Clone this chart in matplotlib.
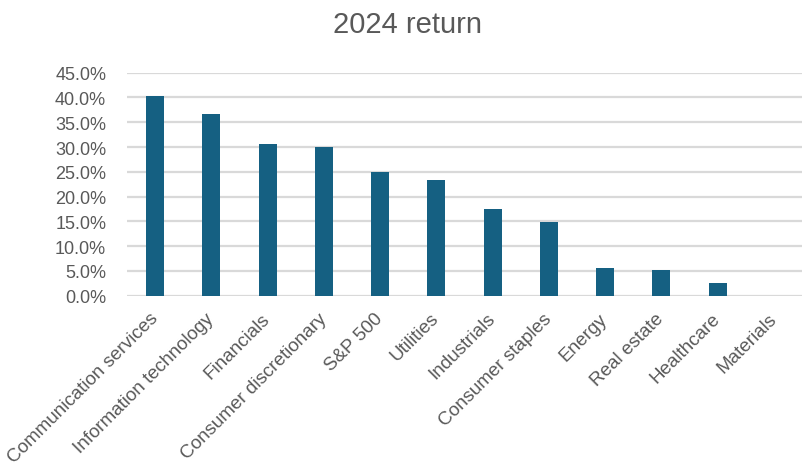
import matplotlib
matplotlib.use("Agg")
import matplotlib.pyplot as plt
import matplotlib.transforms as mtransforms
from matplotlib.ticker import FuncFormatter, MultipleLocator

categories = ["Communication services", "Information technology", "Financials",
              "Consumer discretionary", "S&P 500", "Utilities", "Industrials",
              "Consumer staples", "Energy", "Real estate", "Healthcare", "Materials"]
returns = [40.2, 36.6, 30.6, 30.0, 25.0, 23.4, 17.4, 14.9, 5.6, 5.2, 2.6, 0.0]
title = "2024 return"

plt.rcParams['font.family'] = ['Liberation Sans', 'DejaVu Sans']
text_color = "#595959"
bar_color = "#156082"
grid_color = "#D9D9D9"

fig = plt.figure(figsize=(8.1, 4.77), dpi=100)
ax = fig.add_axes([0.1568, 0.378, 0.990 - 0.1568, 0.8455 - 0.378])

x = list(range(len(categories)))
ax.bar(x, returns, width=0.32, color=bar_color, zorder=3)
ax.set_xlim(-0.5, len(categories) - 0.5)
ax.set_ylim(0, 45)
ax.yaxis.set_major_locator(MultipleLocator(5))
ax.yaxis.set_major_formatter(FuncFormatter(lambda v, p: f"{v:.1f}%"))
ax.grid(axis='y', color=grid_color, linewidth=1.6, zorder=0)
ax.set_axisbelow(True)
for s in ax.spines.values():
    s.set_visible(False)
ax.tick_params(axis='y', length=0, pad=15, labelsize=13, labelcolor=text_color)
ax.tick_params(axis='x', length=0, pad=10)
ax.set_xticks(x)
ax.set_xticklabels(categories, rotation=45, ha='right', va='top',
                   rotation_mode='anchor', fontsize=13.6, color=text_color)
offset = mtransforms.ScaledTranslation(-6 / 100, 0, fig.dpi_scale_trans)
for lbl in ax.get_xticklabels():
    lbl.set_transform(lbl.get_transform() + offset)

fig.text(0.5035, 0.947, title, ha='center', va='center', fontsize=21, color=text_color)

fig.savefig("out.png", dpi=100)
